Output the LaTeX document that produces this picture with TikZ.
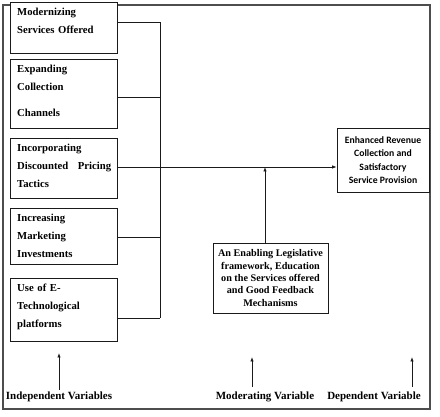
\documentclass[tikz,border=0pt]{standalone}
\usepackage{fontspec}
\setmainfont{Liberation Serif}
\newfontfamily\calfont{Carlito}
\usepackage{tikz}
\usetikzlibrary{positioning,arrows.meta}
\definecolor{ink}{HTML}{1A1A1A}
\definecolor{framec}{HTML}{4D4D4D}
\tikzset{
  ivbox/.style={rectangle,draw=ink,fill=white,line width=0.8pt,minimum width=107pt,
    anchor=north west,inner sep=0pt},
  ivtxt/.style={anchor=north west,align=left,text width=94pt,inner sep=0pt,
    font=\bfseries\fontsize{10.7}{18}\selectfont},
  dvbox/.style={rectangle,draw=ink,fill=white,line width=0.8pt,align=center,
    minimum width=92pt,minimum height=64pt,inner sep=1pt,
    font=\calfont\bfseries\fontsize{9.7}{13.3}\selectfont},
  mvbox/.style={rectangle,draw=ink,fill=white,line width=0.8pt,align=center,
    minimum width=115pt,minimum height=70pt,inner sep=1pt,
    font=\bfseries\fontsize{10.2}{12.3}\selectfont},
  varlbl/.style={font=\bfseries\fontsize{11}{12}\selectfont,inner sep=1pt},
  ln/.style={draw=ink,line width=0.8pt},
  ar/.style={-{Latex[length=4.5pt,width=3.5pt]},draw=ink,line width=0.8pt},
}

\begin{document}
\begin{tikzpicture}[x=1pt,y=-1pt]
  \useasboundingbox (0,0) rectangle (440,417);
  \draw[draw=framec,line width=1.3pt] (3,5) rectangle (430,409);
  % independent variables
  \node[ivbox,minimum height=51pt] (m1) at (10,2) {};
  \node[ivbox,minimum height=69pt] (m2) at (10,59) {};
  \node[ivbox,minimum height=60pt] (m3) at (10,138) {};
  \node[ivbox,minimum height=56pt] (m4) at (10,208) {};
  \node[ivbox,minimum height=63pt] (m5) at (10,278) {};
  \node[ivtxt] (t1) at (17,8) {Modernizing\\Services Offered};
  \node[ivtxt] (t2) at (17,65) {Expanding\\Collection\\[8pt]Channels};
  \node[ivtxt] (t3) at (17,144) {Incorporating\\Discounted\hfill Pricing\\Tactics};
  \node[ivtxt] (t4) at (17,214) {Increasing\\Marketing\\Investments};
  \node[ivtxt] (t5) at (17,284) {Use of E-\\Technological\\platforms};
  \coordinate (b1) at (160,22);
  \coordinate (b2) at (160,97);
  \coordinate (b4) at (160,237);
  \coordinate (b5) at (160,318);
  \coordinate (hub) at (265,167);
  \draw[ln] (b1) -- (b5);
  \draw[ln] (b1 -| m1.east) -- (b1);
  \draw[ln] (b2 -| m2.east) -- (b2);
  \draw[ln] (b4 -| m4.east) -- (b4);
  \draw[ln] (b5 -| m5.east) -- (b5);
  % dependent and moderating
  \node[dvbox] (out) at (383,160) {Enhanced Revenue\\Collection and\\Satisfactory\\Service Provision};
  \node[mvbox] (mod) at (270.5,278) {An Enabling Legislative\\framework, Education\\on the Services offered\\and Good Feedback\\Mechanisms};
  \draw[ar] (hub -| m3.east) -- (hub -| out.west);
  \draw[ar] (hub |- mod.north) -- (hub);
  % variable labels
  \node[varlbl] (iv) at (59,397) {Independent Variables};
  \node[varlbl] (mv) at (265,397) {Moderating Variable};
  \node[varlbl] (dv) at (374,397) {Dependent Variable};
  \coordinate (a1) at (59,353);
  \coordinate (a2) at (252,357);
  \coordinate (a3) at (412,357);
  \draw[ar] (a1 |- iv.north) ++(0,-1) -- (a1);
  \draw[ar] (a2 |- mv.north) ++(0,-4) -- (a2);
  \draw[ar] (a3 |- dv.north) ++(0,-4) -- (a3);
\end{tikzpicture}
\end{document}
